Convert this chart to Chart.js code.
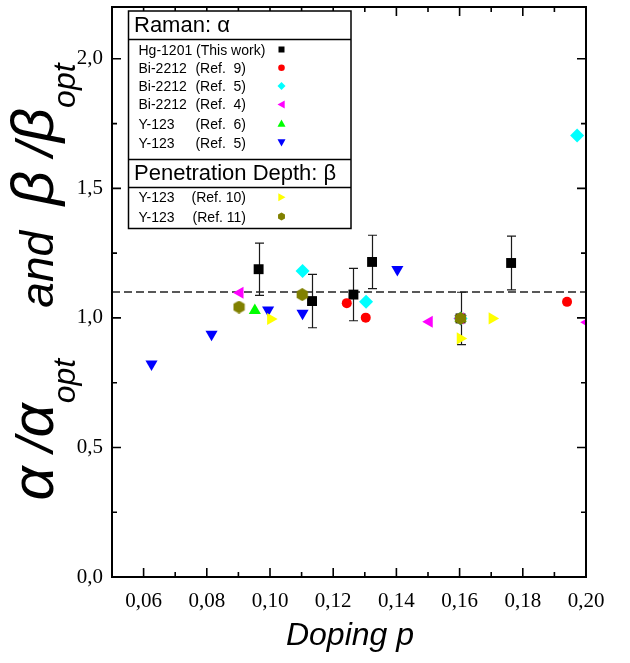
<!DOCTYPE html>
<html>
<head>
<meta charset="utf-8">
<script src="https://cdn.jsdelivr.net/npm/chart.js@4/dist/chart.umd.min.js"></script>
<style>
  html, body { margin: 0; padding: 0; background: #ffffff; }
  canvas { display: block; }
</style>
</head>
<body>
<canvas id="c" width="630" height="663"></canvas>
<script>
// ---- data: doping p and normalised ratio for each sample series ----
const hgP    = [0.0964, 0.1133, 0.1264, 0.1323, 0.1603, 0.1763];
const hgVal  = [1.188, 1.065, 1.090, 1.216, 0.998, 1.212];
const hgErr  = [0.101, 0.103, 0.101, 0.103, 0.101, 0.104];

const bi9P   = [0.1243, 0.1303, 0.1940];
const bi9Val = [1.057, 1.001, 1.062];

const bi5P   = [0.1103, 0.1304, 0.1603, 0.1972];
const bi5Val = [1.181, 1.062, 0.998, 1.704];

const bi4P   = [0.0905, 0.1504, 0.1603, 0.2004];
const bi4Val = [1.097, 0.985, 0.998, 0.983];

const y6P    = [0.0952, 0.1603];
const y6Val  = [1.029, 0.998];

const y5P    = [0.0625, 0.0815, 0.0994, 0.1103, 0.1403, 0.1603];
const y5Val  = [0.822, 0.937, 1.031, 1.018, 1.187, 0.998];

const y10P   = [0.1002, 0.1602, 0.1703];
const y10Val = [0.996, 0.921, 0.998];

const y11P   = [0.0902, 0.1102, 0.1603];
const y11Val = [1.042, 1.090, 0.998];

const refLevel = 1.1;

// ---- axis ticks ----
const xMajor = [0.06, 0.08, 0.10, 0.12, 0.14, 0.16, 0.18, 0.20];
const xMinor = [0.07, 0.09, 0.11, 0.13, 0.15, 0.17, 0.19];
const yMajor = [0.0, 0.5, 1.0, 1.5, 2.0];
const yMinor = [0.25, 0.75, 1.25, 1.75];

// ---- legend rows ----
const ramanNames = ['Hg-1201 (This work)', 'Bi-2212', 'Bi-2212', 'Bi-2212', 'Y-123', 'Y-123'];
const ramanRefs  = ['', '(Ref.  9)', '(Ref.  5)', '(Ref.  4)', '(Ref.  6)', '(Ref.  5)'];
const depthNames = ['Y-123', 'Y-123'];
const depthRefs  = ['(Ref. 10)', '(Ref. 11)'];

const pts = (xs, ys) => xs.map((x, i) => ({ x: x, y: ys[i] }));
const comma = (v, d) => v.toFixed(d).replace('.', ',');

const OLIVE = '#808000';

function hexagonImage(size, color) {
  const c = document.createElement('canvas');
  c.width = size; c.height = size;
  const g = c.getContext('2d');
  const r = size / 2;
  g.fillStyle = color;
  g.beginPath();
  for (let k = 0; k < 6; k++) {
    const a = -Math.PI / 2 + k * Math.PI / 3;
    const px = r + r * Math.cos(a), py = r + r * Math.sin(a);
    if (k === 0) g.moveTo(px, py); else g.lineTo(px, py);
  }
  g.closePath();
  g.fill();
  return c;
}
const hexPoint = hexagonImage(13, OLIVE);

function series(label, data, color, style, radius, rotation, order, extra) {
  return Object.assign({
    type: 'scatter', label: label, data: data, order: order,
    pointStyle: style, pointRadius: radius, pointRotation: rotation,
    pointBackgroundColor: color, pointBorderColor: color, pointBorderWidth: 0,
    pointHoverRadius: radius, showLine: false
  }, extra || {});
}

// error bars on the Hg-1201 points
const errorBars = {
  id: 'errorBars',
  beforeDatasetsDraw(chart) {
    const { ctx, scales: { x, y } } = chart;
    ctx.save();
    ctx.strokeStyle = '#1a1a1a';
    ctx.lineWidth = 1.2;
    hgP.forEach((p, i) => {
      const px = Math.round(x.getPixelForValue(p)) + 0.5;
      const top = y.getPixelForValue(hgVal[i] + hgErr[i]);
      const bot = y.getPixelForValue(hgVal[i] - hgErr[i]);
      ctx.beginPath();
      ctx.moveTo(px, top); ctx.lineTo(px, bot);
      ctx.moveTo(px - 4.5, top); ctx.lineTo(px + 4.5, top);
      ctx.moveTo(px - 4.5, bot); ctx.lineTo(px + 4.5, bot);
      ctx.stroke();
    });
    ctx.restore();
  }
};

// plot frame with inward ticks on all four sides
const frame = {
  id: 'frame',
  afterDatasetsDraw(chart) {
    const { ctx, chartArea: a, scales: { x, y } } = chart;
    ctx.save();
    ctx.strokeStyle = '#000';
    ctx.lineWidth = 1.6;
    const tick = (x1, y1, x2, y2) => { ctx.moveTo(x1, y1); ctx.lineTo(x2, y2); };
    ctx.beginPath();
    xMajor.forEach(v => { const p = x.getPixelForValue(v); tick(p, a.bottom, p, a.bottom - 9); tick(p, a.top, p, a.top + 9); });
    xMinor.forEach(v => { const p = x.getPixelForValue(v); tick(p, a.bottom, p, a.bottom - 5); tick(p, a.top, p, a.top + 5); });
    yMajor.forEach(v => { const p = y.getPixelForValue(v); tick(a.left, p, a.left + 9, p); tick(a.right, p, a.right - 9, p); });
    yMinor.forEach(v => { const p = y.getPixelForValue(v); tick(a.left, p, a.left + 5, p); tick(a.right, p, a.right - 5, p); });
    ctx.stroke();
    ctx.lineWidth = 2;
    ctx.strokeRect(a.left, a.top, a.right - a.left, a.bottom - a.top);
    ctx.restore();
  }
};

function legendMarker(ctx, kind, cx, cy, color) {
  ctx.fillStyle = color;
  ctx.beginPath();
  const r = 4;
  if (kind === 'square') { ctx.rect(cx - 3, cy - 3, 6, 6); }
  else if (kind === 'circle') { ctx.arc(cx, cy, 3.3, 0, Math.PI * 2); }
  else if (kind === 'diamond') { ctx.moveTo(cx, cy - r); ctx.lineTo(cx + r, cy); ctx.lineTo(cx, cy + r); ctx.lineTo(cx - r, cy); }
  else if (kind === 'up') { ctx.moveTo(cx, cy - r); ctx.lineTo(cx + r, cy + r * 0.8); ctx.lineTo(cx - r, cy + r * 0.8); }
  else if (kind === 'down') { ctx.moveTo(cx, cy + r); ctx.lineTo(cx + r, cy - r * 0.8); ctx.lineTo(cx - r, cy - r * 0.8); }
  else if (kind === 'left') { ctx.moveTo(cx - r, cy); ctx.lineTo(cx + r * 0.8, cy - r); ctx.lineTo(cx + r * 0.8, cy + r); }
  else if (kind === 'right') { ctx.moveTo(cx + r, cy); ctx.lineTo(cx - r * 0.8, cy - r); ctx.lineTo(cx - r * 0.8, cy + r); }
  else if (kind === 'hex') {
    for (let k = 0; k < 6; k++) {
      const ang = -Math.PI / 2 + k * Math.PI / 3;
      const px = cx + 4 * Math.cos(ang), py = cy + 4 * Math.sin(ang);
      if (k === 0) ctx.moveTo(px, py); else ctx.lineTo(px, py);
    }
  }
  ctx.closePath();
  ctx.fill();
}

// legend box and axis titles
const annotations = {
  id: 'annotations',
  afterDraw(chart) {
    const ctx = chart.ctx;
    ctx.save();
    // legend box
    const L = 128.5, R = 351, T = 11, B = 228.5;
    ctx.fillStyle = '#fff';
    ctx.fillRect(L, T, R - L, B - T);
    ctx.strokeStyle = '#000';
    ctx.lineWidth = 1.5;
    ctx.strokeRect(L, T, R - L, B - T);
    ctx.beginPath();
    ctx.moveTo(L, 39.5); ctx.lineTo(R, 39.5);
    ctx.moveTo(L, 159.5); ctx.lineTo(R, 159.5);
    ctx.moveTo(L, 187.5); ctx.lineTo(R, 187.5);
    ctx.stroke();

    ctx.fillStyle = '#000';
    ctx.textBaseline = 'alphabetic';
    ctx.textAlign = 'left';
    ctx.font = '22px "Liberation Sans", Arial, sans-serif';
    ctx.fillText('Raman: \u03b1', 134, 32);
    ctx.fillText('Penetration Depth: \u03b2', 134, 179.5);

    const markerX = 281.5;
    const ramanKinds = ['square', 'circle', 'diamond', 'left', 'up', 'down'];
    const ramanColors = ['#000000', '#ff0000', '#00ffff', '#ff00ff', '#00ff00', '#0000ff'];
    const ramanRows = [49.5, 67.8, 86.1, 104.4, 123.5, 142.5];
    ctx.font = '14px "Liberation Sans", Arial, sans-serif';
    ramanRows.forEach((cy, i) => {
      ctx.fillStyle = '#000';
      ctx.textAlign = 'left';
      ctx.fillText(ramanNames[i], 138.5, cy + 5);
      ctx.textAlign = 'right';
      ctx.fillText(ramanRefs[i], 246, cy + 5);
      legendMarker(ctx, ramanKinds[i], markerX, cy, ramanColors[i]);
    });
    const depthKinds = ['right', 'hex'];
    const depthColors = ['#ffff00', OLIVE];
    const depthRows = [197.3, 216.5];
    depthRows.forEach((cy, i) => {
      ctx.fillStyle = '#000';
      ctx.textAlign = 'left';
      ctx.fillText(depthNames[i], 138.5, cy + 5);
      ctx.textAlign = 'right';
      ctx.fillText(depthRefs[i], 246, cy + 5);
      legendMarker(ctx, depthKinds[i], markerX, cy, depthColors[i]);
    });

    // x-axis title
    ctx.fillStyle = '#000';
    ctx.textAlign = 'center';
    ctx.font = 'italic 32px "Liberation Sans", Arial, sans-serif';
    ctx.fillText('Doping p', 350, 645);

    // y-axis title, rotated, with subscripts
    const fam = '"Liberation Sans", Arial, sans-serif';
    const greek = 'italic 60px ' + fam;
    const slash = 'italic 52px ' + fam;
    const word = 'italic 46px ' + fam;
    const sub = 'italic 32px ' + fam;
    const parts = [
      { t: '\u03b1', f: greek, dy: 0 },
      { t: ' /', f: slash, dy: 0 },
      { t: '\u03b1', f: greek, dy: 0 },
      { t: 'opt', f: sub, dy: 22 },
      { t: '    and  ', f: word, dy: 0 },
      { t: '\u03b2', f: greek, dy: 0 },
      { t: ' /', f: slash, dy: 0 },
      { t: '\u03b2', f: greek, dy: 0 },
      { t: 'opt', f: sub, dy: 22 }
    ];
    let total = 0;
    parts.forEach(p => { ctx.font = p.f; p.w = ctx.measureText(p.t).width; total += p.w; });
    ctx.translate(53, 282 + total / 2);
    ctx.rotate(-Math.PI / 2);
    ctx.textAlign = 'left';
    let u = 0;
    parts.forEach(p => { ctx.font = p.f; ctx.fillText(p.t, u, p.dy); u += p.w; });
    ctx.restore();
  }
};

new Chart(document.getElementById('c'), {
  data: {
    datasets: [
      {
        type: 'line', label: 'reference', order: 20,
        data: [{ x: 0.05, y: refLevel }, { x: 0.20, y: refLevel }],
        borderColor: '#222', borderWidth: 1.6, borderDash: [8, 4],
        pointRadius: 0, fill: false
      },
      series('Hg-1201 (This work)', pts(hgP, hgVal), '#000000', 'rect', 7, 0, 10),
      series('Bi-2212 (Ref. 9)', pts(bi9P, bi9Val), '#ff0000', 'circle', 5, 0, 7),
      series('Bi-2212 (Ref. 5)', pts(bi5P, bi5Val), '#00ffff', 'rectRot', 7, 0, 6),
      series('Bi-2212 (Ref. 4)', pts(bi4P, bi4Val), '#ff00ff', 'triangle', 7, 270, 5, { clip: 0 }),
      series('Y-123 (Ref. 6)', pts(y6P, y6Val), '#00ff00', 'triangle', 7, 0, 4),
      series('Y-123 (Ref. 5)', pts(y5P, y5Val), '#0000ff', 'triangle', 7, 180, 3),
      series('Y-123 (Ref. 10)', pts(y10P, y10Val), '#ffff00', 'triangle', 7, 90, 2),
      series('Y-123 (Ref. 11)', pts(y11P, y11Val), OLIVE, hexPoint, 6, 0, 1)
    ]
  },
  options: {
    responsive: false,
    animation: false,
    events: [],
    layout: { padding: { left: 0, top: 3, right: 44, bottom: 0 } },
    plugins: { legend: { display: false }, tooltip: { enabled: false } },
    scales: {
      x: {
        type: 'linear', min: 0.05, max: 0.20,
        grid: { display: false, drawTicks: false },
        border: { display: false },
        afterBuildTicks: s => { s.ticks = xMajor.map(v => ({ value: v })); },
        afterFit: s => { s.height = 86; s.paddingLeft = 0; s.paddingRight = 0; },
        ticks: {
          autoSkip: false, maxRotation: 0, padding: 12, color: '#000',
          font: { family: '"Liberation Serif", "Times New Roman", serif', size: 21 },
          callback: v => comma(v, 2)
        }
      },
      y: {
        type: 'linear', min: 0, max: 2.2,
        grid: { display: false, drawTicks: false },
        border: { display: false },
        afterBuildTicks: s => { s.ticks = yMajor.map(v => ({ value: v })); },
        afterFit: s => { s.width = 112; s.paddingTop = 0; s.paddingBottom = 0; },
        ticks: {
          padding: 9, color: '#000',
          font: { family: '"Liberation Serif", "Times New Roman", serif', size: 21 },
          callback: v => comma(v, 1)
        }
      }
    }
  },
  plugins: [errorBars, frame, annotations]
});
</script>
</body>
</html>
